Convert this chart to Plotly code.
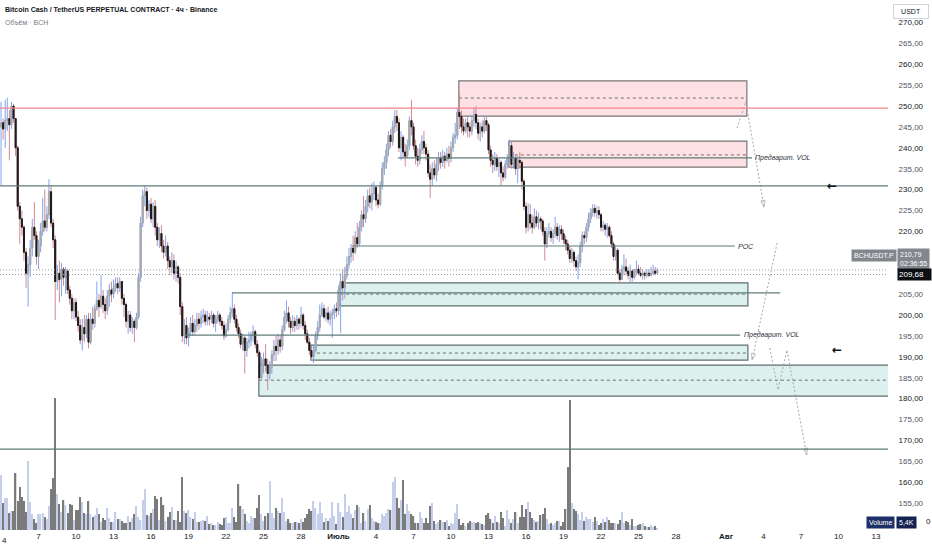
import pandas as pd
import plotly.graph_objects as go

# BCHUSDT.P, 4h candles starting Jun 4 00:00
start = "2024-06-04 00:00"
first_open = 245.0

close = [
    246, 244.5, 246.5, 247, 245.5, 250, 247, 240, 226, 223,
    221, 215, 210, 212, 216, 221, 219, 214, 216.5, 220,
    222.5, 221, 224, 229.5, 222, 218, 208, 210, 208.5, 211,
    209, 210.5, 206, 204, 201, 203, 199.5, 197.5, 194, 197,
    195.5, 199, 193.5, 199, 198, 201.5, 203.5, 202, 204.5, 202.5,
    201, 204.5, 206, 205, 206.5, 207.5, 206.5, 208, 204, 202.5,
    198.5, 200, 197, 198.5, 197, 199.5, 209, 222, 228.5, 229.5,
    225, 226.5, 223, 226, 221, 218, 219.5, 216.5, 215, 216.5,
    213, 211.5, 213, 210, 211.5, 209, 202, 195, 197.5, 194.5,
    196, 198, 196, 197.5, 199, 198, 199.5, 200, 198.5, 199.5,
    199, 200, 198, 199, 200, 198.5, 197.5, 195, 196.5, 199,
    200.5, 201.5, 199, 197, 195.5, 193, 194.5, 191.5, 193.5, 194,
    195, 196, 193, 191, 185, 188, 189.5, 188, 186, 187.5,
    190.5, 192.5, 191.5, 194, 192.5, 196.5, 199.5, 200.5, 198.5, 197,
    198.5, 197.5, 199, 198, 200, 197.5, 195.5, 193.5, 191.5, 190,
    191.5, 195, 197, 200, 201.5, 199.5, 200.5, 199, 200, 200.5,
    201.5, 201, 206, 208, 206.5, 209.5, 212, 214, 216, 215,
    218.5, 217, 221, 224, 223, 226, 228.5, 227, 229, 230.5,
    227.5, 226.5, 231, 235, 236.5, 239.5, 243, 241.5, 245, 247.5,
    246, 240, 242.5, 239, 238, 240.5, 246.5, 245, 240.5, 238,
    237, 239.5, 241.5, 240, 238.5, 234, 232.5, 235, 233.5, 236,
    237.5, 236.5, 238, 237, 238.5, 237.5, 240, 242.5, 243, 248.5,
    247.5, 245, 244, 246, 245, 244, 246.5, 248, 246, 243.5,
    245, 244, 246.5, 245.5, 239.5, 237, 236, 237.5, 235.5, 236.5,
    234, 233, 236, 237.5, 240.5, 236, 237.5, 235, 237, 236.5,
    232, 226, 221, 224, 222, 221, 223.5, 222, 223, 222.5,
    220, 217, 219.5, 220, 218.5, 219.5, 221, 219, 220.5, 219.5,
    218, 217, 215.5, 213.5, 215, 213, 211.5, 212.5, 216.5, 219,
    218.5, 221, 223, 224.5, 225.5, 224.5, 225, 224, 221, 221.5,
    220.5, 221, 219, 217, 214, 215.5, 210, 208.5, 211, 211.5,
    210.5, 209.5, 210.5, 209, 210.5, 211, 210, 209.5, 210, 209.5,
    210, 209.5, 210, 210.5, 210, 210.79,
]

high = [
    251, 247, 251.5, 252, 249, 251, 250.5, 247, 240.5, 227,
    225, 221.5, 216, 214, 218, 223, 227, 220, 218, 222,
    228, 230, 226, 232.5, 231, 223, 219, 212, 213, 212.5,
    211.5, 211.5, 211, 207, 205, 204, 204, 201, 199, 199,
    200, 200, 200.5, 200.5, 202, 202.5, 208, 205, 209.5, 206,
    204, 206, 207.5, 208, 208.5, 209, 209, 209, 208, 205,
    203, 201, 201, 199.5, 199, 200.5, 210, 223.5, 230, 231,
    230.5, 227.5, 228, 227, 227.5, 222, 221, 221.5, 218, 219,
    217.5, 214, 215, 214.5, 213, 212, 210, 203, 199, 199.5,
    197, 199.5, 200, 199, 200.5, 200.5, 201, 201.5, 201, 201,
    200.5, 201, 200.5, 200, 201, 200.5, 199.5, 198.5, 198, 200,
    202, 205.3, 202.5, 200, 198, 196.5, 195.5, 195, 194.5, 196,
    196, 197.5, 196.5, 194, 191.5, 190, 191, 193, 189.5, 189,
    191.5, 194, 195, 195.5, 195, 197.5, 201, 203.5, 202, 199.5,
    200, 199.5, 200, 199.5, 202, 200.5, 198.5, 196.5, 194.5, 192.5,
    193, 196, 198.5, 202.5, 203, 202.5, 201.5, 202, 201, 201.5,
    202.5, 203, 207, 210, 211, 211.5, 214, 216, 217, 219,
    220, 222, 222.5, 225, 228.5, 227.5, 230, 230.5, 231.5, 232,
    231, 229, 232, 236.5, 238, 241, 244, 244.5, 246.5, 249,
    249, 247, 244, 243, 241, 242, 247.5, 251.5, 246, 242,
    240, 241, 243, 244, 241, 239.5, 236, 236.5, 237, 237.5,
    239, 239, 239.5, 239, 240, 240.5, 241.5, 243.5, 246, 249.5,
    253, 249, 247, 247, 247.5, 246, 247.5, 249.5, 250, 247,
    246, 246.5, 247.5, 247.5, 246, 240.5, 238.5, 239, 238.5, 237.5,
    237, 235.5, 237, 238.5, 242, 241.5, 239, 238.5, 238, 239,
    237, 232.5, 227, 226.7, 226.5, 224, 225.5, 225, 224.5, 223.5,
    223, 221, 221, 222, 221, 220.5, 223.5, 222, 221.5, 221.5,
    220.5, 219, 218, 216.5, 216, 215.5, 214, 214.5, 217.5, 220,
    220, 222, 224.5, 225.5, 226.5, 226.5, 226, 226, 224.5, 222.5,
    222, 222, 221.5, 220, 217.5, 216.5, 216, 211, 212, 214.5,
    213.5, 211.5, 212, 211, 211, 213, 212, 211.5, 211, 210.5,
    211, 211, 211.5, 212, 211.5, 211.3,
]

low = [
    231, 242, 240, 244, 237, 244.5, 246, 238, 225, 217,
    219, 213, 206.5, 202, 209, 214, 218, 212, 211, 215,
    219, 220, 220, 223, 221, 216, 198.8, 206, 203, 204.5,
    207, 205, 205, 202.5, 199, 199, 198.5, 196, 193, 191.5,
    193.5, 194.5, 192, 193, 196.5, 197, 201, 199.5, 201.5, 200.5,
    199, 200, 202, 203, 204, 205.5, 205, 205.5, 202.5, 199.5,
    197, 195.5, 196, 195.5, 193.5, 196.5, 199, 208, 221, 226,
    223, 223.5, 222, 221, 219, 216.5, 216, 215, 213.5, 214,
    211, 209.5, 210, 208.5, 208, 207.5, 200, 193.5, 193, 193,
    192.5, 195, 195, 195.5, 196, 196.5, 197, 198, 197.5, 197.5,
    197.5, 198, 197, 196, 198, 197.5, 196.5, 194, 194.5, 196,
    198, 199.5, 198, 196, 194.5, 192, 191.5, 186, 190, 192,
    192.5, 193.5, 192, 190, 184, 184.5, 186, 186.5, 182, 184.5,
    186, 189, 189, 190.5, 191, 191.5, 196, 198, 197, 195.5,
    196, 196, 196.5, 196.5, 197, 196.5, 194, 193, 190.5, 189,
    188.5, 191, 194, 196, 199.5, 199, 198.5, 198, 197.5, 194.5,
    199, 199.5, 200, 195.7, 203.5, 204, 208.5, 211, 212.5, 213,
    214.5, 216, 216.5, 220, 221, 222, 224.5, 225.5, 225, 227.5,
    226, 225.5, 226, 230, 233.5, 235, 238, 240, 240.5, 243.5,
    244, 239, 237, 237.5, 235.5, 237.5, 239.5, 243, 239.5, 236,
    235.5, 236, 238.5, 238.5, 237, 233, 228, 231, 232.5, 232,
    234.5, 235, 235.5, 235, 236.5, 235.5, 236.5, 239, 241, 242,
    244.5, 243.5, 243, 243.5, 242.5, 242.5, 243, 245, 244.5, 242,
    241.5, 242.5, 243.5, 244, 238.5, 235.5, 234, 234.5, 234.5, 233,
    231, 232, 232.5, 235, 236.5, 235, 235, 233.5, 231.5, 235,
    230, 225, 219.5, 220, 220.5, 219.5, 220.5, 221, 220.5, 220.5,
    219, 213, 216, 218.5, 217.5, 217, 218.5, 218, 217.5, 218,
    217, 215.5, 214.5, 212.5, 212.5, 211.5, 210.5, 208.5, 211.5, 215,
    217, 217.5, 220, 222, 223.5, 223.5, 223, 223, 220, 220,
    219, 218.5, 218.5, 216, 213, 213, 209.5, 207.5, 208.5, 209.5,
    209.5, 208.5, 207.5, 208, 208.5, 209.5, 209.5, 209, 208.5, 208.5,
    209, 209, 209.2, 209.5, 209.5, 209.8,
]

volume = [
    55, 27, 32, 32, 17, 19, 19, 57, 29, 43,
    33, 29, 18, 69, 28, 16, 11, 7, 16, 16,
    17, 13, 11, 24, 41, 52, 132, 36, 26, 18,
    30, 25, 17, 26, 25, 10, 20, 20, 33, 28,
    17, 16, 29, 16, 13, 15, 22, 16, 8, 12,
    10, 22, 12, 8, 8, 18, 11, 11, 9, 7,
    7, 14, 8, 12, 16, 24, 13, 10, 30, 41,
    15, 14, 17, 21, 34, 31, 10, 33, 25, 9,
    13, 18, 23, 10, 10, 19, 8, 53, 19, 17,
    20, 13, 11, 18, 8, 8, 9, 10, 9, 14,
    6, 7, 5, 5, 8, 6, 5, 12, 13, 7,
    7, 22, 13, 8, 46, 24, 21, 16, 9, 7,
    14, 12, 12, 22, 35, 16, 9, 14, 17, 49,
    17, 12, 22, 19, 17, 32, 18, 9, 11, 7,
    7, 8, 8, 7, 11, 8, 12, 16, 21, 19,
    29, 22, 16, 28, 17, 8, 12, 9, 12, 28,
    14, 6, 27, 18, 13, 36, 18, 24, 16, 12,
    20, 25, 23, 7, 17, 9, 21, 25, 12, 9,
    8, 7, 7, 16, 14, 17, 21, 20, 48, 53,
    32, 22, 30, 50, 16, 26, 19, 16, 14, 7,
    7, 18, 12, 7, 12, 7, 24, 27, 9, 6,
    8, 10, 8, 8, 10, 4, 7, 6, 17, 26,
    11, 5, 7, 4, 7, 9, 8, 8, 7, 8,
    7, 6, 5, 15, 17, 11, 7, 14, 8, 7,
    18, 12, 4, 20, 11, 7, 11, 18, 7, 13,
    25, 13, 21, 28, 18, 12, 10, 8, 9, 15,
    16, 22, 11, 6, 7, 5, 7, 9, 9, 4,
    8, 21, 63, 130, 27, 21, 19, 16, 10, 18,
    9, 13, 11, 11, 8, 13, 9, 5, 7, 11,
    8, 13, 10, 7, 7, 7, 6, 10, 18, 7,
    9, 8, 5, 11, 4, 4, 5, 6, 7, 4,
    3, 3, 5, 3, 4, 2,
]

# axis ticks
date_ticks = ["2024-06-04", "2024-06-07", "2024-06-10", "2024-06-13", "2024-06-16",
              "2024-06-19", "2024-06-22", "2024-06-25", "2024-06-28", "2024-07-01",
              "2024-07-04", "2024-07-07", "2024-07-10", "2024-07-13", "2024-07-16",
              "2024-07-19", "2024-07-22", "2024-07-25", "2024-07-28", "2024-08-01",
              "2024-08-04", "2024-08-07", "2024-08-10", "2024-08-13"]
date_labels = ["4", "7", "10", "13", "16", "19", "22", "25", "28", "<b>Июль</b>",
               "4", "7", "10", "13", "16", "19", "22", "25", "28", "<b>Авг</b>",
               "4", "7", "10", "13"]
price_ticks = [155, 160, 165, 170, 175, 180, 185, 190, 195, 200, 205, 210,
               215, 220, 225, 230, 235, 240, 245, 250, 255, 260, 265, 270]
hidden_ticks = [210, 215]  # covered by the price tags

# drawings on the chart
full_lines = [(249.5, "#f7848c"), (230.9, "#5e7d79"), (167.9, "#5e7d79")]
seg_lines = [
    ("2024-07-02 02:00", "2024-08-01 17:00", 216.5),
    ("2024-07-05 18:00", "2024-08-03 02:00", 237.6),
    ("2024-06-18 17:00", "2024-08-02 03:00", 195.2),
    ("2024-06-22 11:30", "2024-08-05 08:00", 205.3),
]
seg_labels = [
    ("2024-08-01 20:00", 216.5, "POC"),
    ("2024-08-03 04:00", 237.6, "Предварит. VOL"),
    ("2024-08-02 07:00", 195.2, "Предварит. VOL"),
]
zones = [
    ("2024-07-10 15:00", "2024-08-02 16:00", 247.6, 256.0, 251.9, "#fde1e4"),
    ("2024-07-14 15:00", "2024-08-02 16:00", 235.4, 241.6, 238.3, "#fde1e4"),
    ("2024-07-01 03:00", "2024-08-02 18:00", 202.2, 207.7, 205.0, "#dcf0ee"),
    ("2024-06-28 19:00", "2024-08-02 18:00", 189.2, 192.8, 190.9, "#dcf0ee"),
    ("2024-06-24 15:00", "2024-08-25 00:00", 180.6, 188.0, 184.4, "#dcf0ee"),
]
paths = [
    (["2024-08-01 21:00", "2024-08-02 14:00", "2024-08-04 01:00"], [244.7, 251.0, 225.8]),
    (["2024-08-05 02:00", "2024-08-03 02:00"], [217.2, 189.2]),
    (["2024-08-04 12:00", "2024-08-05 04:00", "2024-08-05 21:00", "2024-08-07 11:00"],
     [192.1, 182.1, 191.6, 166.5]),
]
arrows = [("2024-08-09 11:00", 230.9), ("2024-08-09 21:00", 191.6)]
last_price = 210.79
prev_price = 209.68

times = pd.date_range(start, periods=len(close), freq="4h")
opens = [first_open] + close[:-1]
highs = [max(h, o, c) for h, o, c in zip(high, opens, close)]
lows = [min(l, o, c) for l, o, c in zip(low, opens, close)]
body_hi = [max(o, c) for o, c in zip(opens, close)]
body_lo = [min(o, c) for o, c in zip(opens, close)]
vol_colors = ["#c5cfec" if c >= o else "#7b7b7b" for o, c in zip(opens, close)]

BULL_BODY = "#a9a9a9"
BEAR_BODY = "#1b1b1b"
TXT = "#131722"

fig = go.Figure()

fig.add_trace(go.Bar(x=times, y=volume, marker_color=vol_colors, marker_line_width=0,
                     width=0.62 * 4 * 3600 * 1000, yaxis="y2", hoverinfo="skip"))

# wicks
fig.add_trace(go.Candlestick(
    x=times, open=opens, high=highs, low=lows, close=close,
    increasing=dict(line=dict(color="#7ea4f0", width=1), fillcolor=BULL_BODY),
    decreasing=dict(line=dict(color="#cf8a90", width=1), fillcolor=BEAR_BODY),
    hoverinfo="skip"))
# bodies
fig.add_trace(go.Candlestick(
    x=times, open=opens, high=body_hi, low=body_lo, close=close,
    increasing=dict(line=dict(color=BULL_BODY, width=1), fillcolor=BULL_BODY),
    decreasing=dict(line=dict(color=BEAR_BODY, width=1), fillcolor=BEAR_BODY),
    hoverinfo="skip"))

for xs, ys in paths:
    fig.add_trace(go.Scatter(
        x=xs, y=ys, mode="lines+markers",
        line=dict(color="#a3a7ad", width=1, dash="2px,2px"),
        marker=dict(symbol="arrow-open", size=[0] * (len(xs) - 1) + [7], angleref="previous",
                    color="#a3a7ad", line=dict(color="#a3a7ad", width=1)),
        hoverinfo="skip"))

shapes = []
for x0, x1, lo, hi, mid, fill in zones:
    edge = "#5f6f6d" if fill == "#dcf0ee" else "#777777"
    shapes.append(dict(type="rect", xref="x", yref="y", x0=x0, x1=x1, y0=lo, y1=hi,
                       fillcolor=fill, line=dict(color=edge, width=1.2), layer="below"))
    shapes.append(dict(type="line", xref="x", yref="y", x0=x0, x1=x1, y0=mid, y1=mid,
                       line=dict(color="#6f6f6f", width=1, dash="3px,3px"), layer="below"))
for p, col in full_lines:
    shapes.append(dict(type="line", xref="paper", yref="y", x0=0, x1=1, y0=p, y1=p,
                       line=dict(color=col, width=1.2)))
for x0, x1, p in seg_lines:
    shapes.append(dict(type="line", xref="x", yref="y", x0=x0, x1=x1, y0=p, y1=p,
                       line=dict(color="#5e7d79", width=1.2)))
for p in (last_price, prev_price):
    shapes.append(dict(type="line", xref="paper", yref="y", x0=0, x1=1, y0=p, y1=p,
                       line=dict(color="#9a9da5", width=1, dash="1px,2px")))

annotations = [
    dict(text="Bitcoin Cash / TetherUS PERPETUAL CONTRACT · 4ч · Binance", xref="paper", yref="paper",
         x=0, y=1, xanchor="left", yanchor="top", xshift=3, yshift=-4, showarrow=False,
         font=dict(size=7, color=TXT, weight=600)),
    dict(text="Объём · BCH", xref="paper", yref="paper", x=0, y=1, xanchor="left", yanchor="top",
         xshift=3, yshift=-17, showarrow=False, font=dict(size=7, color="#787b86")),
    dict(text="USDT", xref="paper", yref="paper", x=1, y=1, xanchor="left", yanchor="top",
         xshift=5, yshift=-4, showarrow=False, font=dict(size=7, color=TXT),
         bgcolor="white", bordercolor="#d1d4dc", borderwidth=1, borderpad=3, width=28),
    dict(text="BCHUSDT.P", xref="paper", yref="y", x=1, y=214.3, xanchor="right", xshift=9,
         showarrow=False, font=dict(size=7, color="white"), bgcolor="#83868d", borderpad=2),
    dict(text="210,79<br>02:36:55", xref="paper", yref="y", x=1, y=213.3, xanchor="left", xshift=9,
         showarrow=False, font=dict(size=7, color="white"), bgcolor="#83868d", borderpad=2, align="left"),
    dict(text="209,68", xref="paper", yref="y", x=1, y=prev_price, xanchor="left", xshift=9,
         showarrow=False, font=dict(size=8, color="white"), bgcolor="#0c0e12", borderpad=1, width=31,
         align="left"),
    dict(text="Volume", xref="paper", yref="paper", x=1, y=0, xanchor="right", yanchor="bottom",
         xshift=7, yshift=1, showarrow=False, font=dict(size=7, color="white"), bgcolor="#1d2f66",
         borderpad=2),
    dict(text="5,4K", xref="paper", yref="paper", x=1, y=0, xanchor="left", yanchor="bottom",
         xshift=8, yshift=1, showarrow=False, font=dict(size=7, color="white"), bgcolor="#142252",
         borderpad=2),
    dict(text="0", xref="paper", yref="paper", x=1, y=0, xanchor="left", yanchor="bottom",
         xshift=36, yshift=2, showarrow=False, font=dict(size=8, color=TXT)),
    # first date label sits on the left edge, plotly drops it as a tick label
    dict(text=date_labels[0], xref="paper", yref="paper", x=0, y=0, xanchor="left", yanchor="top",
         yshift=-4, showarrow=False, font=dict(size=8, color=TXT)),
]
for x, p, label in seg_labels:
    annotations.append(dict(text=f"<i>{label}</i>", x=x, y=p, xanchor="left", showarrow=False,
                            font=dict(size=7, color="#2a2e39")))
for x, p in arrows:
    annotations.append(dict(text="<b>←</b>", x=x, y=p, showarrow=False,
                            font=dict(size=12, color=TXT, family="DejaVu Sans")))

tick_text = []
for t in price_ticks:
    s = f"{t:.2f}".replace(".", ",")
    if t in hidden_ticks:
        s = ""
    elif t % 10:
        s = f"<span style='color:#50535e'>{s}</span>"
    tick_text.append(s)

fig.update_layout(
    width=932, height=550,
    margin=dict(l=0, r=44, t=0, b=20),
    paper_bgcolor="white", plot_bgcolor="white",
    showlegend=False,
    font=dict(family="Liberation Sans", color=TXT),
    shapes=shapes, annotations=annotations,
    xaxis=dict(type="date", range=["2024-06-03 22:00", "2024-08-13 23:00"],
               rangeslider=dict(visible=False), showgrid=False, zeroline=False,
               tickvals=date_ticks[1:], ticktext=date_labels[1:], ticks="",
               tickfont=dict(size=8, color=TXT)),
    yaxis=dict(side="right", range=[148.56, 275.36], tickvals=price_ticks, ticktext=tick_text,
               showgrid=False, zeroline=False, ticks="outside", ticklen=8,
               tickcolor="rgba(0,0,0,0)", tickfont=dict(size=8, color=TXT)),
    yaxis2=dict(overlaying="y", range=[0, 530], visible=False),
)

fig.write_html("out.html", config={"displayModeBar": False},
               post_script="document.body.style.margin='0';")
